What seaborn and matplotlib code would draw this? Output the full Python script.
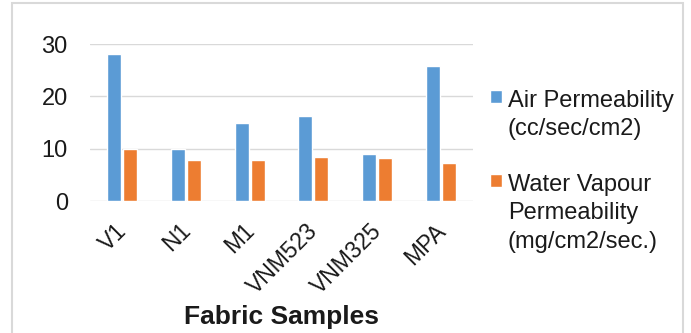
import matplotlib
matplotlib.use("Agg")
import matplotlib.pyplot as plt
import matplotlib.transforms as mtransforms
import seaborn as sns
import pandas as pd
from matplotlib.patches import Rectangle

samples = ["V1", "N1", "M1", "VNM523", "VNM325", "MPA"]
air_perm = [28.0, 10.0, 15.0, 16.3, 8.9, 25.8]
water_vap = [9.9, 7.9, 7.9, 8.4, 8.2, 7.2]
series_names = ["Air Permeability\n(cc/sec/cm2)", "Water Vapour\nPermeability\n(mg/cm2/sec.)"]
colors = ["#5B9BD5", "#ED7D31"]

df = pd.DataFrame({
    "Sample": samples * 2,
    "Value": air_perm + water_vap,
    "Series": [series_names[0]] * len(samples) + [series_names[1]] * len(samples),
})

sns.set_theme(style="white")
plt.rcParams["font.family"] = ["Liberation Sans", "DejaVu Sans"]

W, H = 691, 333
fig = plt.figure(figsize=(W / 100, H / 100), dpi=100)
ax = fig.add_axes([90 / W, 1 - 201 / H, (473 - 90) / W, (201 - 44) / H])

sns.barplot(data=df, x="Sample", y="Value", hue="Series", palette=colors,
            width=0.5, gap=0.12, ax=ax, legend=True, saturation=1)

txtc = "#1a1a1a"
ax.set_ylim(0, 30)
ax.set_yticks([0, 10, 20, 30])
ax.yaxis.grid(True, color="#D9D9D9", linewidth=1)
ax.set_axisbelow(True)
for s in ax.spines.values():
    s.set_visible(False)
ax.tick_params(axis="y", labelsize=17, length=0, pad=16, colors=txtc)
ax.tick_params(axis="x", labelsize=16.5, length=0, pad=13, colors=txtc)
offset = mtransforms.ScaledTranslation(-7 / 100, 0, fig.dpi_scale_trans)
for lab in ax.get_xticklabels():
    lab.set_rotation(45)
    lab.set_ha("right")
    lab.set_rotation_mode("anchor")
    lab.set_transform(lab.get_transform() + offset)
ax.set_ylabel("")
ax.set_xlabel("Fabric Samples", fontsize=19, fontweight="bold", color=txtc)
ax.xaxis.set_label_coords(0.5, (201 - 305) / 157)

leg = ax.legend(loc="upper left", bbox_to_anchor=(490 / W, 1 - 90 / H),
                bbox_transform=fig.transFigure, frameon=False, fontsize=17,
                handlelength=0.5, handleheight=0.5, handletextpad=0.25,
                labelspacing=1.42, borderaxespad=0, borderpad=0)
for t in leg.get_texts():
    t.set_color(txtc)
    t.set_linespacing(1.38)
for col in leg._legend_handle_box.get_children():
    for row in col.get_children():
        row.align = "top"

fig.patches.append(Rectangle((12 / W, -0.02), (683 - 12) / W, 1 - 3 / H + 0.02,
                             transform=fig.transFigure, fill=False,
                             edgecolor="#D9D9D9", linewidth=1.5))

fig.savefig("out.png", dpi=100)
